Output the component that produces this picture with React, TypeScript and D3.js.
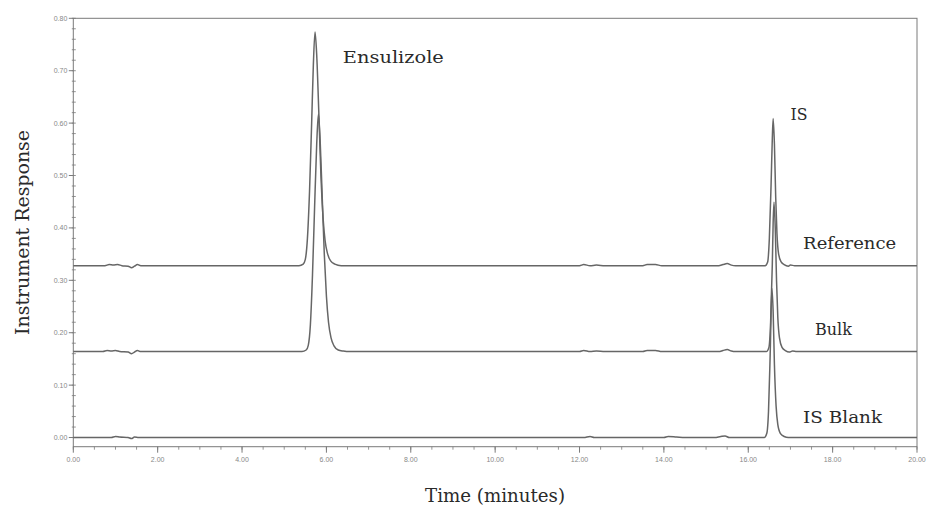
import React from "react";
import * as d3 from "d3";

const xTickValues = [0, 2, 4, 6, 8, 10, 12, 14, 16, 18, 20];
const xTickLabels = ["0.00", "2.00", "4.00", "6.00", "8.00", "10.00", "12.00", "14.00", "16.00", "18.00", "20.00"];
const yTickValues = [0, 0.1, 0.2, 0.3, 0.4, 0.5, 0.6, 0.7, 0.8];
const yTickLabels = ["0.00", "0.10", "0.20", "0.30", "0.40", "0.50", "0.60", "0.70", "0.80"];

// time (min), response
const referenceTrace: [number, number][] = [
  [0, 0.328], [0.75, 0.328], [0.85, 0.330], [0.95, 0.329], [1.05, 0.330], [1.15, 0.328], [1.3, 0.327],
  [1.38, 0.324], [1.45, 0.327], [1.52, 0.330], [1.6, 0.328], [5.35, 0.328], [5.45, 0.331], [5.5, 0.340],
  [5.55, 0.380], [5.6, 0.470], [5.65, 0.600], [5.69, 0.710], [5.73, 0.774], [5.77, 0.730], [5.82, 0.620],
  [5.87, 0.500], [5.92, 0.420], [5.97, 0.375], [6.03, 0.350], [6.1, 0.337], [6.2, 0.331], [6.35, 0.328],
  [12.0, 0.328], [12.1, 0.330], [12.25, 0.328], [12.4, 0.329], [12.6, 0.328], [13.5, 0.328], [13.6, 0.330],
  [13.8, 0.330], [13.95, 0.328], [15.3, 0.328], [15.4, 0.330], [15.5, 0.332], [15.6, 0.329], [15.7, 0.328],
  [16.40, 0.328], [16.46, 0.335], [16.50, 0.380], [16.54, 0.480], [16.57, 0.570], [16.59, 0.609],
  [16.62, 0.560], [16.65, 0.460], [16.68, 0.390], [16.72, 0.350], [16.78, 0.335], [16.85, 0.330],
  [16.95, 0.327], [17.0, 0.329], [17.1, 0.328], [20, 0.328],
];

const bulkTrace: [number, number][] = [
  [0, 0.164], [0.7, 0.164], [0.8, 0.166], [0.9, 0.165], [1.0, 0.166], [1.1, 0.164], [1.3, 0.163],
  [1.38, 0.160], [1.45, 0.163], [1.52, 0.166], [1.6, 0.164], [5.42, 0.164], [5.52, 0.167], [5.57, 0.176],
  [5.62, 0.215], [5.67, 0.310], [5.72, 0.440], [5.77, 0.560], [5.81, 0.617], [5.85, 0.570], [5.90, 0.460],
  [5.95, 0.350], [6.00, 0.270], [6.05, 0.220], [6.11, 0.190], [6.18, 0.175], [6.28, 0.167], [6.4, 0.165],
  [6.55, 0.164], [12.0, 0.164], [12.1, 0.166], [12.25, 0.164], [12.4, 0.165], [12.6, 0.164], [13.5, 0.164],
  [13.6, 0.166], [13.8, 0.166], [13.95, 0.164], [15.3, 0.164], [15.4, 0.166], [15.5, 0.168], [15.6, 0.165],
  [15.7, 0.164], [16.43, 0.164], [16.49, 0.172], [16.53, 0.220], [16.57, 0.330], [16.59, 0.410],
  [16.61, 0.449], [16.64, 0.400], [16.67, 0.300], [16.70, 0.230], [16.74, 0.190], [16.80, 0.172],
  [16.88, 0.166], [16.97, 0.163], [17.05, 0.165], [17.15, 0.164], [20, 0.164],
];

const blankTrace: [number, number][] = [
  [0, 0.0], [0.9, 0.0], [1.0, 0.002], [1.1, 0.001], [1.3, 0.0], [1.38, -0.002], [1.45, 0.001], [1.55, 0.0],
  [12.1, 0.0], [12.25, 0.002], [12.35, 0.0], [14.0, 0.0], [14.1, 0.002], [14.3, 0.001], [14.5, 0.0],
  [15.2, 0.0], [15.35, 0.002], [15.45, 0.003], [15.55, 0.0], [16.38, 0.0], [16.44, 0.008], [16.48, 0.05],
  [16.52, 0.16], [16.56, 0.285], [16.59, 0.24], [16.62, 0.14], [16.66, 0.06], [16.70, 0.025],
  [16.76, 0.008], [16.85, 0.002], [16.95, 0.0], [20, 0.0],
];

const traces = [referenceTrace, bulkTrace, blankTrace];

const peakLabels = [
  { text: "Ensulizole", t: 6.39, v: 0.715, len: 101 },
  { text: "IS", t: 17.0, v: 0.605, len: 17 },
  { text: "Reference", t: 17.3, v: 0.36, len: 93 },
  { text: "Bulk", t: 17.58, v: 0.195, len: 37 },
  { text: "IS Blank", t: 17.3, v: 0.028, len: 79 },
];

export default function App() {
  const W = 934, H = 508;
  const left = 73.3, right = 917, top = 18.3, bottom = 446.7;
  const x = d3.scaleLinear().domain([0, 20]).range([left, right]);
  const y = d3.scaleLinear().domain([-0.0175, 0.8]).range([bottom, top]);
  const line = d3
    .line<[number, number]>()
    .x((d) => x(d[0]))
    .y((d) => y(d[1]))
    .curve(d3.curveMonotoneX);

  const xMinor = d3.range(0, 20.001, 0.5);
  const yMinor = d3.range(0, 0.8001, 0.02);
  const axisColor = "#7a7a7a";
  const textFont = "'DejaVu Serif', serif";

  return (
    <svg width={W} height={H} style={{ position: "absolute", left: 0, top: 0, background: "#fff" }}>
      <rect x={0} y={0} width={W} height={H} fill="#fff" />
      <rect x={left} y={top} width={right - left} height={bottom - top} fill="none" stroke={axisColor} strokeWidth={1} />
      {yMinor.map((v, i) => (
        <line key={"ym" + i} x1={left - 1.5} x2={left + 2.5} y1={y(v)} y2={y(v)} stroke={axisColor} strokeWidth={0.8} />
      ))}
      {yTickValues.map((v, i) => (
        <g key={"y" + i}>
          <line x1={left - 4.5} x2={left} y1={y(v)} y2={y(v)} stroke={axisColor} strokeWidth={1} />
          <text x={left - 6} y={y(v)} dy="0.35em" textAnchor="end" fontSize={7} fill="#888" fontFamily="'Liberation Sans', sans-serif">
            {yTickLabels[i]}
          </text>
        </g>
      ))}
      {xMinor.map((t, i) => (
        <line key={"xm" + i} x1={x(t)} x2={x(t)} y1={bottom} y2={bottom + 3} stroke={axisColor} strokeWidth={0.8} />
      ))}
      {xTickValues.map((t, i) => (
        <g key={"x" + i}>
          <line x1={x(t)} x2={x(t)} y1={bottom} y2={bottom + 6} stroke={axisColor} strokeWidth={1} />
          <text x={x(t)} y={bottom + 15} textAnchor="middle" fontSize={7} fill="#888" fontFamily="'Liberation Sans', sans-serif">
            {xTickLabels[i]}
          </text>
        </g>
      ))}
      {traces.map((tr, i) => (
        <path key={"tr" + i} d={line(tr) || ""} fill="none" stroke="#666" strokeWidth={1.5} strokeLinejoin="round" />
      ))}
      {peakLabels.map((p, i) => (
        <text key={"pl" + i} x={x(p.t)} y={y(p.v)} fontSize={17} fill="#2a2a2a" fontFamily={textFont}
          textLength={p.len} lengthAdjust="spacingAndGlyphs">
          {p.text}
        </text>
      ))}
      <text x={425} y={502} fontSize={18} fill="#2a2a2a" fontFamily={textFont} textLength={140} lengthAdjust="spacingAndGlyphs">
        Time (minutes)
      </text>
      <text transform={`translate(29,335) rotate(-90)`} fontSize={18} fill="#2a2a2a" fontFamily={textFont}
        textLength={205} lengthAdjust="spacingAndGlyphs">
        Instrument Response
      </text>
    </svg>
  );
}
